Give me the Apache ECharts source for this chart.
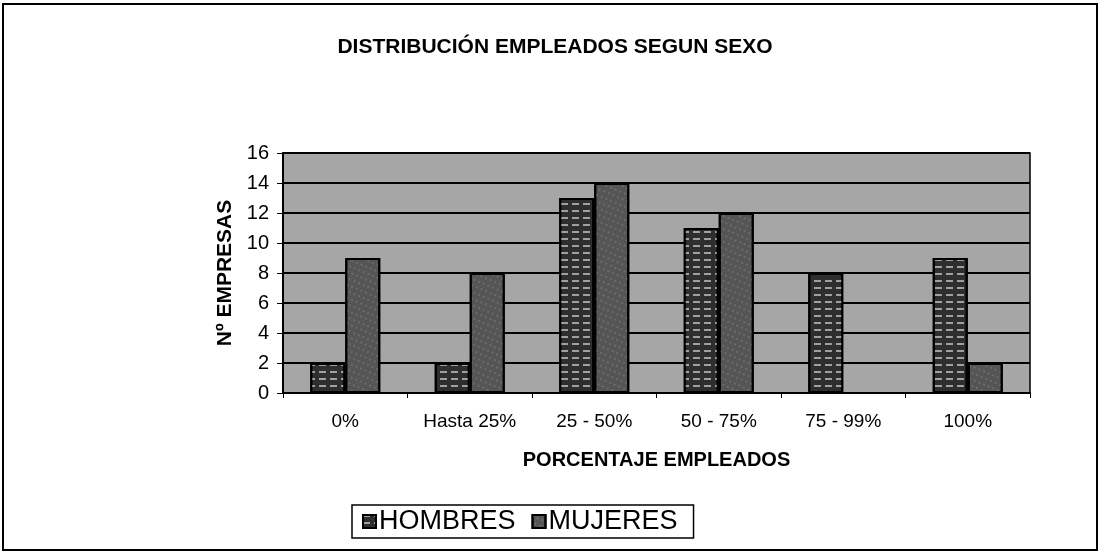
<!DOCTYPE html>
<html>
<head>
<meta charset="utf-8">
<script src="https://cdn.jsdelivr.net/npm/echarts@6/dist/echarts.min.js"></script>
<style>
  html, body { margin: 0; padding: 0; background: #fff; }
  #chart { width: 1100px; height: 553px; }
</style>
</head>
<body>
<div id="chart"></div>
<script>
// Data
const categories = ['0%', 'Hasta 25%', '25 - 50%', '50 - 75%', '75 - 99%', '100%'];
const hombres = [2, 2, 13, 11, 8, 9];
const mujeres = [9, 8, 14, 12, 0, 2];
const yTicks = { min: 0, max: 16, interval: 2 };

const font = '"Liberation Sans", Arial, sans-serif';

const chart = echarts.init(document.getElementById('chart'));

const option = {
    backgroundColor: '#ffffff',
    animation: false,
    aria: { enabled: true, decal: { show: true } },
    title: {
        text: 'DISTRIBUCIÓN EMPLEADOS SEGUN SEXO',
        left: 550,
        textAlign: 'center',
        top: 32,
        textStyle: {
            fontFamily: font,
            fontSize: 21,
            fontWeight: 'bold',
            color: '#000'
        }
    },
    legend: {
        data: ['HOMBRES', 'MUJERES'],
        left: 352,
        top: 505,
        icon: 'rect',
        itemWidth: 13,
        itemHeight: 13,
        itemGap: 16,
        padding: [3, 16, 3, 10],
        borderColor: '#000',
        borderWidth: 1.5,
        textStyle: {
            fontFamily: font,
            fontSize: 27,
            color: '#000',
            padding: [0, 0, 0, -2]
        }
    },
    grid: {
        left: 283,
        right: 70,
        top: 153,
        bottom: 160,
        show: true,
        backgroundColor: '#a6a6a6',
        borderColor: '#000',
        borderWidth: 1.5
    },
    xAxis: {
        type: 'category',
        data: categories,
        name: 'PORCENTAJE EMPLEADOS',
        nameLocation: 'middle',
        nameGap: 57,
        nameTextStyle: {
            fontFamily: font,
            fontSize: 20,
            fontWeight: 'bold',
            color: '#000'
        },
        axisLine: { lineStyle: { color: '#000', width: 2 } },
        axisTick: { show: true, length: 5, lineStyle: { color: '#000' } },
        axisLabel: {
            fontFamily: font,
            fontSize: 19,
            color: '#000',
            margin: 19
        }
    },
    yAxis: {
        type: 'value',
        min: yTicks.min,
        max: yTicks.max,
        interval: yTicks.interval,
        name: 'Nº EMPRESAS',
        nameLocation: 'middle',
        nameGap: 46,
        nameTextStyle: {
            fontFamily: font,
            fontSize: 21,
            fontWeight: 'bold',
            color: '#000'
        },
        axisLine: { show: true, lineStyle: { color: '#000', width: 2 } },
        axisTick: { show: true, length: 6, lineStyle: { color: '#000' } },
        axisLabel: {
            fontFamily: font,
            fontSize: 20,
            color: '#000',
            margin: 14
        },
        splitLine: { show: true, lineStyle: { color: '#000', width: 2 } }
    },
    series: [
        {
            name: 'HOMBRES',
            type: 'bar',
            data: hombres,
            barWidth: 35,
            barGap: '0%',
            itemStyle: {
                color: '#2e2e2e',
                borderColor: '#000',
                borderWidth: 2,
                decal: {
                    symbol: 'rect',
                    color: 'rgba(255,255,255,0.55)',
                    dashArrayX: [[7, 4]],
                    dashArrayY: [2, 5],
                    symbolSize: 1,
                    rotation: 0
                }
            }
        },
        {
            name: 'MUJERES',
            type: 'bar',
            data: mujeres,
            barWidth: 35,
            barGap: '0%',
            itemStyle: {
                color: '#555555',
                borderColor: '#000',
                borderWidth: 2,
                decal: {
                    symbol: 'circle',
                    color: 'rgba(255,255,255,0.3)',
                    dashArrayX: [[2, 3]],
                    dashArrayY: [2, 4],
                    symbolSize: 0.8,
                    rotation: 0.4
                }
            }
        }
    ],
    graphic: [
        {
            type: 'rect',
            shape: { x: 3, y: 4, width: 1094, height: 546 },
            style: { fill: 'none', stroke: '#000', lineWidth: 2 },
            silent: true
        }
    ]
};

chart.setOption(option);
</script>
</body>
</html>
